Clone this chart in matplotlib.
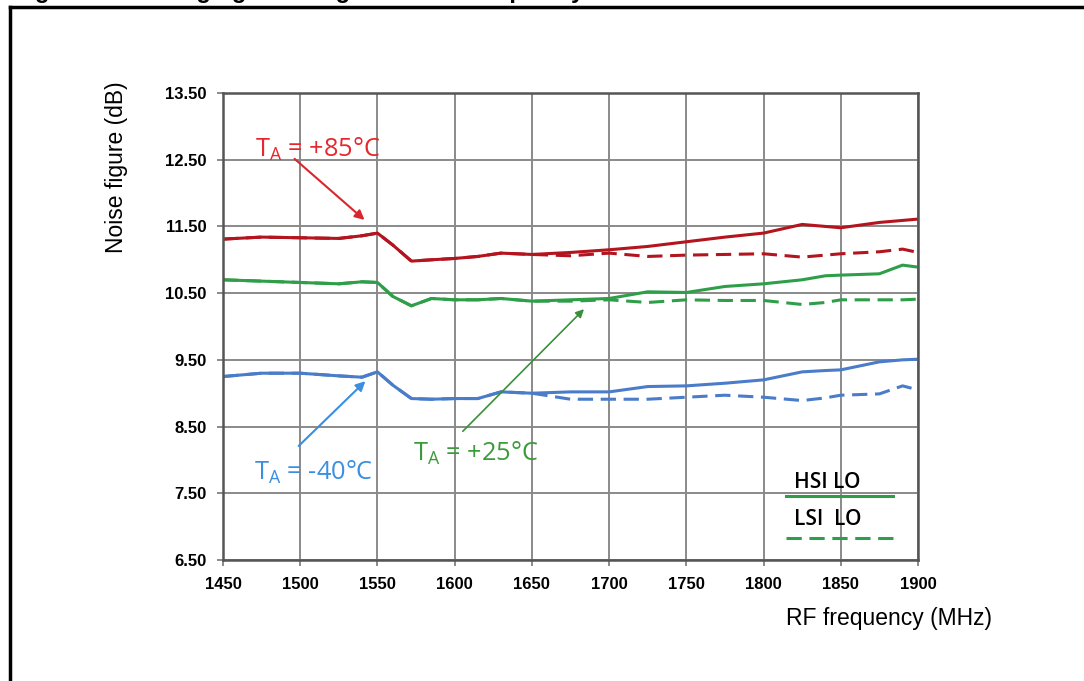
import matplotlib
matplotlib.use('Agg')
from matplotlib import pyplot as plt
from matplotlib.lines import Line2D

# RF frequency points (MHz)
freq = [1450, 1475, 1500, 1525, 1540, 1550, 1560, 1572, 1585, 1600, 1615, 1630, 1650,
        1675, 1700, 1725, 1750, 1775, 1800, 1825, 1840, 1850, 1875, 1890, 1900]

# noise figure (dB), HSI LO = solid, LSI LO = dashed
nf_85_hsi = [11.31, 11.34, 11.33, 11.32, 11.36, 11.40, 11.22, 10.98, 11.00, 11.02, 11.05, 11.10, 11.08,
             11.11, 11.15, 11.20, 11.27, 11.34, 11.40, 11.53, 11.50, 11.48, 11.56, 11.59, 11.61]
nf_85_lsi = [11.31, 11.34, 11.33, 11.32, 11.36, 11.40, 11.22, 10.98, 11.00, 11.02, 11.05, 11.10, 11.08,
             11.06, 11.10, 11.05, 11.07, 11.08, 11.09, 11.04, 11.07, 11.09, 11.12, 11.16, 11.11]
nf_25_hsi = [10.70, 10.68, 10.66, 10.64, 10.67, 10.66, 10.45, 10.31, 10.42, 10.40, 10.40, 10.42, 10.38,
             10.40, 10.42, 10.52, 10.51, 10.60, 10.64, 10.70, 10.76, 10.77, 10.79, 10.92, 10.89]
nf_25_lsi = [10.70, 10.68, 10.66, 10.64, 10.67, 10.66, 10.45, 10.31, 10.42, 10.40, 10.40, 10.42, 10.38,
             10.38, 10.40, 10.36, 10.40, 10.39, 10.39, 10.33, 10.36, 10.40, 10.40, 10.40, 10.41]
nf_m40_hsi = [9.25, 9.30, 9.30, 9.26, 9.24, 9.32, 9.12, 8.92, 8.91, 8.92, 8.92, 9.02, 9.00,
              9.02, 9.02, 9.10, 9.11, 9.15, 9.20, 9.32, 9.34, 9.35, 9.47, 9.50, 9.51]
nf_m40_lsi = [9.25, 9.30, 9.30, 9.26, 9.24, 9.32, 9.12, 8.92, 8.91, 8.92, 8.92, 9.02, 9.00,
              8.91, 8.91, 8.91, 8.94, 8.97, 8.94, 8.89, 8.93, 8.97, 8.99, 9.11, 9.05]

xticks = [1450, 1500, 1550, 1600, 1650, 1700, 1750, 1800, 1850, 1900]
yticks = [6.5, 7.5, 8.5, 9.5, 10.5, 11.5, 12.5, 13.5]

red = '#B3141E'
green = '#2F9E49'
blue = '#4A7CC9'
dash = (5, 2.5)

fig = plt.figure(figsize=(10.84, 6.81), dpi=100)
ax = fig.add_axes([223/1084, 1 - 560/681, (918 - 223)/1084, (560 - 93)/681])

for y_hsi, y_lsi, c in [(nf_85_hsi, nf_85_lsi, red), (nf_25_hsi, nf_25_lsi, green), (nf_m40_hsi, nf_m40_lsi, blue)]:
    ax.plot(freq, y_lsi, color=c, lw=2.2, ls=(0, dash))
    ax.plot(freq, y_hsi, color=c, lw=2.2)

ax.set_xlim(1450, 1900)
ax.set_ylim(6.5, 13.5)
ax.set_xticks(xticks)
ax.set_yticks(yticks)
ax.set_xticklabels([str(t) for t in xticks], fontsize=12, fontweight='bold', family='Liberation Sans')
ax.set_yticklabels(['%.2f' % t for t in yticks], fontsize=12, fontweight='bold', family='Liberation Sans')
ax.grid(True, color='#8a8a8a', lw=1.4)
ax.set_axisbelow(True)
for s in ax.spines.values():
    s.set_color('#555555')
    s.set_linewidth(1.8)
ax.tick_params(axis='both', length=4, width=1.2, color='#777777', pad=8)

fig.text(117/1084, 1 - 167/681, 'Noise figure (dB)', fontsize=16.5, family='Liberation Sans',
         rotation=90, ha='center', va='center')
fig.text(992/1084, 1 - 618/681, 'RF frequency (MHz)', fontsize=16.5, family='Liberation Sans',
         ha='right', va='center')

# temperature annotations
tfont = dict(fontsize=18.3, family='Open Sans')
ax.annotate('', xy=(1543, 11.57), xytext=(1495, 12.54),
            arrowprops=dict(arrowstyle='-|>', color='#D9262D', lw=1.5, mutation_scale=14))
ax.text(1471, 12.65, r'T$_\mathregular{A}$ = +85°C', color='#E8262D', va='center', **tfont)

ax.annotate('', xy=(1543.5, 9.21), xytext=(1497.7, 8.18),
            arrowprops=dict(arrowstyle='-|>', color='#3A8FE0', lw=1.5, mutation_scale=14))
ax.text(1470, 7.82, r'T$_\mathregular{A}$ = -40°C', color='#3A8FE0', va='center', **tfont)

ax.annotate('', xy=(1685, 10.29), xytext=(1604, 8.40),
            arrowprops=dict(arrowstyle='-|>', color='#3B8F3B', lw=1.2, mutation_scale=12))
ax.text(1573, 8.10, r'T$_\mathregular{A}$ = +25°C', color='#3B9B3B', va='center', **tfont)

# HSI / LSI legend
ax.text(1820, 7.66, 'HSI LO', fontsize=15, family='Open Sans', fontweight='semibold', va='center')
ax.plot([1814.5, 1883.5], [7.46, 7.46], color=green, lw=2.2)
ax.text(1820, 7.11, 'LSI  LO', fontsize=15, family='Open Sans', fontweight='semibold', va='center')
ax.plot([1814.5, 1883.5], [6.83, 6.83], color=green, lw=2.2, ls=(0, dash))

# figure frame and clipped caption
fig.add_artist(Line2D([10/1084, 10/1084], [0, 1 - 7/681], transform=fig.transFigure, color='black', lw=2.5))
fig.add_artist(Line2D([10/1084, 1], [1 - 7/681, 1 - 7/681], transform=fig.transFigure, color='black', lw=2.5))
fig.text(14/1084, 1 + 2/681, 'Figure 36. Averaging noise figure vs. RF frequency',
         fontsize=17, fontweight='bold', family='Liberation Sans', va='baseline')

fig.savefig('out.png', dpi=100)
